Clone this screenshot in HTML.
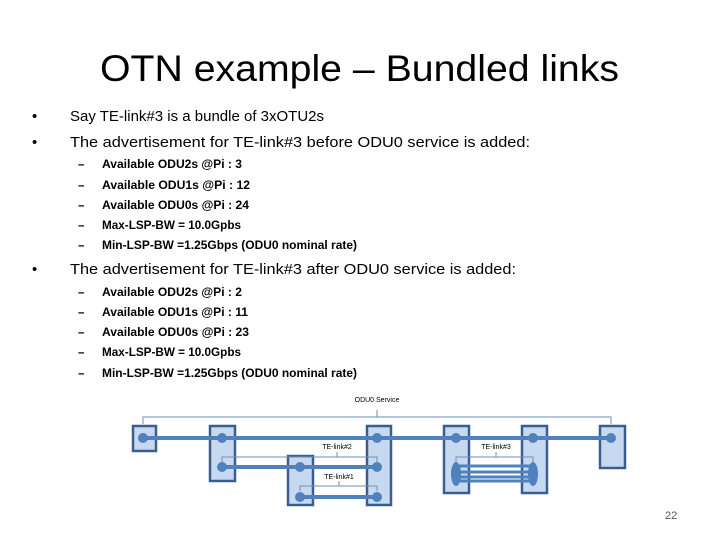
<!DOCTYPE html>
<html><head><style>html,body{margin:0;padding:0;background:#fff}svg{display:block}</style></head>
<body>
<svg width="720" height="540" xmlns="http://www.w3.org/2000/svg" font-family="Liberation Sans, sans-serif">
<text x="100" y="81" font-size="37" textLength="519" lengthAdjust="spacingAndGlyphs" fill="#000">OTN example – Bundled links</text>
<g font-size="15" fill="#000">
<text x="32" y="121">•</text><text x="70" y="121" textLength="254" lengthAdjust="spacingAndGlyphs">Say TE-link#3 is a bundle of 3xOTU2s</text>
<text x="32" y="147">•</text><text x="70" y="147" textLength="460" lengthAdjust="spacingAndGlyphs">The advertisement for TE-link#3 before ODU0 service is added:</text>
<text x="32" y="274">•</text><text x="70" y="274" textLength="446" lengthAdjust="spacingAndGlyphs">The advertisement for TE-link#3 after ODU0 service is added:</text>
</g>
<g font-size="11.5" font-weight="bold" fill="#000">
<text x="78" y="168">–</text><text x="102" y="168" textLength="140" lengthAdjust="spacingAndGlyphs">Available  ODU2s @Pi : 3</text>
<text x="78" y="189">–</text><text x="102" y="189" textLength="148" lengthAdjust="spacingAndGlyphs">Available  ODU1s @Pi : 12</text>
<text x="78" y="209">–</text><text x="102" y="209" textLength="147" lengthAdjust="spacingAndGlyphs">Available  ODU0s @Pi : 24</text>
<text x="78" y="229">–</text><text x="102" y="229" textLength="139" lengthAdjust="spacingAndGlyphs">Max-LSP-BW = 10.0Gpbs</text>
<text x="78" y="249">–</text><text x="102" y="249" textLength="255" lengthAdjust="spacingAndGlyphs">Min-LSP-BW =1.25Gbps (ODU0 nominal rate)</text>
<text x="78" y="296">–</text><text x="102" y="296" textLength="140" lengthAdjust="spacingAndGlyphs">Available  ODU2s @Pi : 2</text>
<text x="78" y="316">–</text><text x="102" y="316" textLength="146" lengthAdjust="spacingAndGlyphs">Available  ODU1s @Pi : 11</text>
<text x="78" y="336">–</text><text x="102" y="336" textLength="147" lengthAdjust="spacingAndGlyphs">Available  ODU0s @Pi : 23</text>
<text x="78" y="356">–</text><text x="102" y="356" textLength="139" lengthAdjust="spacingAndGlyphs">Max-LSP-BW = 10.0Gpbs</text>
<text x="78" y="377">–</text><text x="102" y="377" textLength="255" lengthAdjust="spacingAndGlyphs">Min-LSP-BW =1.25Gbps (ODU0 nominal rate)</text>
</g>
<g fill="#c6d9f1" stroke="#3a5f8f" stroke-width="2.5">
<rect x="133" y="426" width="23" height="25"/>
<rect x="210" y="426" width="25" height="55"/>
<rect x="367" y="426" width="24" height="79"/>
<rect x="288" y="456" width="25" height="49"/>
<rect x="444" y="426" width="25" height="67"/>
<rect x="522" y="426" width="25" height="67"/>
<rect x="600" y="426" width="25" height="42"/>
</g>
<g fill="none" stroke="#6f8fb3" stroke-width="1">
<path d="M143 424V417H611V424M377 417V410"/>
<path d="M222 462V457H377V462M337 457V452"/>
<path d="M300 491V486H377V491M339 486V481"/>
<path d="M456 462V457H533V462M496 457V452"/>
</g>
<g stroke="#4f81bd" stroke-width="4">
<line x1="143" y1="438" x2="611" y2="438"/>
<line x1="222" y1="467" x2="377" y2="467"/>
<line x1="300" y1="497" x2="377" y2="497"/>
<g stroke-width="3"><line x1="456" y1="466" x2="533" y2="466"/><line x1="456" y1="472" x2="533" y2="472"/><line x1="456" y1="477" x2="533" y2="477"/><line x1="456" y1="481" x2="533" y2="481"/></g>
</g>
<g fill="#4f81bd">
<circle cx="143" cy="438" r="5"/><circle cx="222" cy="438" r="5"/><circle cx="377" cy="438" r="5"/><circle cx="456" cy="438" r="5"/><circle cx="533" cy="438" r="5"/><circle cx="611" cy="438" r="5"/>
<circle cx="222" cy="467" r="5"/><circle cx="300" cy="467" r="5"/><circle cx="377" cy="467" r="5"/>
<circle cx="300" cy="497" r="5"/><circle cx="377" cy="497" r="5"/>
<ellipse cx="456" cy="474" rx="5" ry="12"/><ellipse cx="533" cy="474" rx="5" ry="12"/>
</g>
<g font-size="7" fill="#000" text-anchor="middle">
<text x="377" y="402">ODU0 Service</text>
<text x="337" y="449">TE-link#2</text>
<text x="339" y="479">TE-link#1</text>
<text x="496" y="449">TE-link#3</text>
</g>
<text x="665" y="519" font-size="11" fill="#555">22</text>
</svg>
</body></html>
